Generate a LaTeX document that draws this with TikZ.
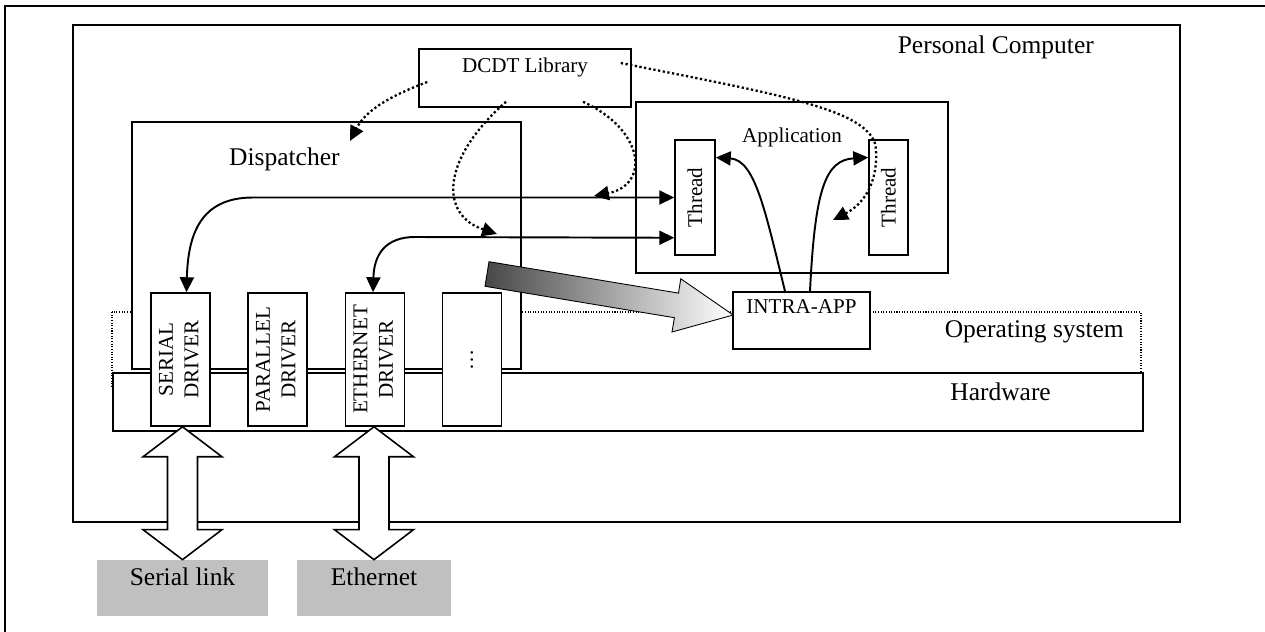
\documentclass[tikz,border=0pt]{standalone}
\usepackage{fontspec}
\setmainfont{Liberation Serif}
\usepackage{tikz}
\usetikzlibrary{arrows.meta,calc}
\definecolor{linkgray}{RGB}{192,192,192}

\begin{document}
\begin{tikzpicture}[x=0.02cm,y=-0.02cm,
    plainbox/.style={draw,line width=0.9pt,fill=white,inner sep=0pt},
    bigfont/.style={font=\fontsize{14.5}{17}\selectfont},
    smallfont/.style={font=\fontsize{12}{14.5}\selectfont},
    drv/.style={plainbox,smallfont,minimum width=1.18cm,minimum height=2.66cm},
    thr/.style={plainbox,smallfont,minimum width=0.8cm,minimum height=2.3cm},
    linkbox/.style={fill=linkgray,bigfont,inner sep=0pt,text height=0.5cm,text depth=0.62cm},
    dotline/.style={line width=1.3pt,dash pattern=on 1.3pt off 1.4pt},
    headarrow/.style={-{Triangle[length=8.5pt,width=8pt]}},
    twoheads/.style={{Triangle[length=8.5pt,width=8pt]}-{Triangle[length=8.5pt,width=8pt]}},
    ]
    \useasboundingbox (0,0) rectangle (1265,632);
    % frames
    \draw[line width=0.9pt] (5,700) |- (1300,6);
    \draw[line width=0.9pt] (73,25) rectangle (1180,522);
    \node[bigfont,anchor=base east] (PCtext) at (1100,53) {Personal Computer};
    \draw[line width=0.6pt,dash pattern=on 0.6pt off 0.9pt] (112,312) rectangle (1141,386);
    \node[bigfont,anchor=base east] (OStext) at (1130,337) {Operating system};
    \draw[line width=0.9pt,fill=white] (113,373) rectangle (1143,431);
    \node[bigfont,anchor=base east] (HWtext) at (1057,400) {Hardware};
    \draw[line width=0.9pt,fill=white] (132,122) rectangle (521,369);
    \node[bigfont,anchor=base west] (Disptext) at (223,165) {Dispatcher};
    \draw[line width=0.9pt] (636,102) rectangle (948,273);
    \node[smallfont,anchor=base] (Apptext) at (792,142) {Application};

    % boxes
    \node[drv] (Drv1) at (180.5,359.5) {\rotatebox{90}{\begin{tabular}{@{}c@{}}SERIAL\\DRIVER\end{tabular}}};
    \node[drv] (Drv2) at (277.5,359.5) {\rotatebox{90}{\begin{tabular}{@{}c@{}}PARALLEL\\DRIVER\end{tabular}}};
    \node[drv] (Drv3) at (375,359.5) {\rotatebox{90}{\begin{tabular}{@{}c@{}}ETHERNET\\DRIVER\end{tabular}}};
    \node[drv] (Drv4) at (472,359.5) {\rotatebox{90}{\dots}};
    \node[thr] (Th1) at (695,197.5) {\rotatebox{90}{Thread}};
    \node[thr,minimum width=0.78cm] (Th2) at (888.5,197.5) {\rotatebox{90}{Thread}};
    \node[plainbox,smallfont,minimum width=2.74cm,text height=0.42cm,text depth=0.72cm] (Intra) at (801.5,320.5) {INTRA-APP};
    \node[plainbox,smallfont,minimum width=4.24cm,text height=0.46cm,text depth=0.70cm] (DCDT) at (525,78) {DCDT Library};
    \node[linkbox,minimum width=3.42cm] (Link1) at (182.5,588) {Serial link};
    \node[linkbox,minimum width=3.08cm] (Link2) at (374,588) {Ethernet};

    % dotted calls from the library
    \coordinate (DispIn) at (350,141);
    \coordinate (LowLine) at (497,234);
    \coordinate (HighLine) at (594,196);
    \coordinate (ThIn) at (833,220);
    \draw[dotline,headarrow] ($(DCDT.west)+(9,4)$) .. controls (385,98) and (365,112) .. (DispIn);
    \draw[dotline,headarrow] ($(DCDT.south)+(-19,-6)$) .. controls (440,160) and (440,215) .. (LowLine);
    \draw[dotline,headarrow] ($(DCDT.south)+(58,-6)$) .. controls (645,130) and (650,185) .. (HighLine);
    \draw[dotline,headarrow] ($(DCDT.east)+(-11,-15)$) .. controls (780,95) and (875,110) .. (876,150)
      .. controls (878,185) and (862,205) .. (ThIn);

    % solid links
    \draw[line width=1.1pt,twoheads] ($(Drv1.north)+(6,0)$) .. controls (188,235) and (200,197.5) .. (253,197.5) -- (Th1.west);
    \draw[line width=1.1pt,twoheads] ($(Drv3.north)+(-2,0)$) .. controls (374,255) and (385,237) .. (415,237)
      -- ($(Th1.south west)+(0,-18)$);
    \draw[line width=1.1pt,headarrow] ($(Intra.north)+(-16.5,0)$) .. controls (765,210) and (755,160) .. ($(Th1.east)+(0,-40)$);
    \draw[line width=1.1pt,headarrow] ($(Intra.north)+(8.5,0)$) .. controls (815,190) and (825,160) .. ($(Th2.west)+(0,-40)$);

    % shaded arrow to INTRA-APP
    \shade[draw,line width=0.5pt,left color=black!72,right color=white]
      (489,261.7) -- (678.5,293.1) -- (680.8,278.8) -- ($(Intra.west)+(1,-5.5)$)
      -- (672,332) -- (674.4,317.7) -- (485,286.3) -- cycle;

    % wide double arrows to the links
    \foreach \l/\d in {Link1/Drv1,Link2/Drv3} {
      \coordinate (Top) at (\l.north |- \d.south);
      \draw[line width=0.9pt,fill=white] (Top) -- ++(39.5,30) -- ++(-24.5,0)
        -- ($(\l.north)+(15,-30)$) -- ++(24.5,0) -- (\l.north) -- ++(-39.5,-30) -- ++(24.5,0)
        -- ($(Top)+(-15,30)$) -- ++(-24.5,0) -- cycle;
    }
\end{tikzpicture}
\end{document}
